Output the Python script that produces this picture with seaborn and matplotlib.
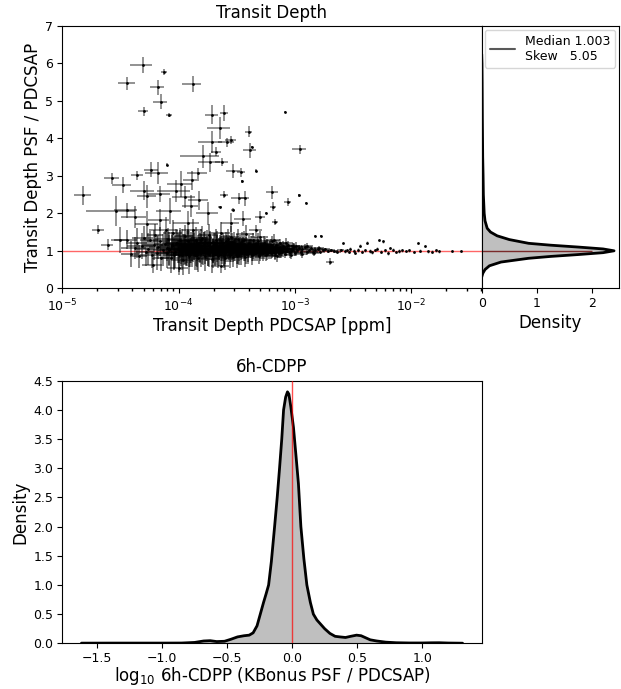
import numpy as np
import pandas as pd
import matplotlib
matplotlib.use("Agg")
import matplotlib.pyplot as plt
from matplotlib.lines import Line2D
import seaborn as sns

# ---------------- data ----------------
# Dense core (low depth)
A_depth = [3.6e-5, 3.9e-5, 4.2e-5, 4.4e-5, 4.6e-5, 4.8e-5, 5.0e-5, 5.2e-5, 5.5e-5, 5.7e-5,
           5.9e-5, 6.1e-5, 6.3e-5, 6.5e-5, 6.7e-5, 6.9e-5, 7.1e-5, 7.3e-5]
A_ratio = [1.30, 0.92, 1.08, 1.22, 0.85, 1.12, 1.35, 0.98, 1.05, 1.28,
           0.88, 1.15, 1.42, 0.95, 1.10, 1.25, 0.82, 1.02]
A_depth_err = [0.8e-5, 0.7e-5, 1.0e-5, 0.9e-5, 0.8e-5, 1.2e-5, 1.0e-5, 0.9e-5, 1.1e-5, 1.0e-5,
               1.2e-5, 1.3e-5, 1.0e-5, 1.4e-5, 1.1e-5, 1.5e-5, 1.2e-5, 1.3e-5]
A_ratio_err = [0.25, 0.35, 0.30, 0.40, 0.30, 0.35, 0.30, 0.38, 0.42, 0.30,
               0.35, 0.40, 0.30, 0.45, 0.32, 0.38, 0.36, 0.42]

B_depth = [7.6e-5, 7.9e-5, 8.1e-5, 8.3e-5, 8.6e-5, 8.8e-5, 9.0e-5, 9.3e-5, 9.5e-5, 9.8e-5,
           1.00e-4, 1.03e-4, 1.05e-4, 1.08e-4, 1.10e-4, 1.13e-4, 1.15e-4, 1.18e-4, 1.20e-4, 1.23e-4,
           1.25e-4, 1.28e-4, 1.30e-4, 1.33e-4, 1.36e-4, 1.39e-4, 1.42e-4, 1.45e-4, 1.48e-4, 1.51e-4,
           1.54e-4, 1.57e-4, 1.60e-4, 1.64e-4, 1.68e-4, 1.72e-4, 1.76e-4, 1.80e-4, 1.84e-4, 1.88e-4,
           1.92e-4, 1.96e-4,
           8.0e-5, 9.1e-5, 1.02e-4, 1.12e-4, 1.22e-4, 1.32e-4, 1.44e-4, 1.56e-4, 1.70e-4, 1.86e-4, 1.98e-4]
B_ratio = [1.18, 0.93, 1.32, 1.05, 0.80, 1.12, 1.48, 0.97, 1.22, 1.08,
           0.88, 1.30, 1.02, 1.15, 0.75, 1.40, 0.95, 1.10, 1.25, 0.85,
           1.05, 1.18, 0.98, 1.55, 1.12, 0.90, 1.28, 1.02, 0.82, 1.20,
           1.08, 0.94, 1.35, 1.15, 0.87, 1.05, 1.22, 0.97, 1.42, 1.10,
           0.78, 1.00,
           1.08, 0.90, 1.18, 1.02, 0.92, 1.12, 0.96, 1.28, 1.00, 1.20, 0.90]
B_depth_err = [1.5e-5, 1.6e-5, 1.8e-5, 1.4e-5, 1.7e-5, 2.0e-5, 1.6e-5, 1.9e-5, 2.1e-5, 1.8e-5,
               2.2e-5, 2.0e-5, 2.3e-5, 1.9e-5, 2.4e-5, 2.1e-5, 2.5e-5, 2.2e-5, 2.6e-5, 2.3e-5,
               2.7e-5, 2.4e-5, 2.8e-5, 2.5e-5, 2.9e-5, 2.6e-5, 3.0e-5, 2.7e-5, 3.1e-5, 2.8e-5,
               3.2e-5, 2.9e-5, 3.3e-5, 3.0e-5, 3.4e-5, 3.1e-5, 3.5e-5, 3.2e-5, 3.6e-5, 3.3e-5,
               3.7e-5, 3.4e-5,
               1.6e-5, 1.8e-5, 2.0e-5, 2.2e-5, 2.4e-5, 2.6e-5, 2.8e-5, 3.0e-5, 3.2e-5, 3.4e-5, 3.6e-5]
B_ratio_err = [0.35, 0.40, 0.30, 0.45, 0.38, 0.30, 0.33, 0.42, 0.36, 0.40,
               0.45, 0.32, 0.38, 0.44, 0.40, 0.30, 0.36, 0.42, 0.34, 0.46,
               0.38, 0.33, 0.40, 0.30, 0.36, 0.42, 0.35, 0.30, 0.38, 0.32,
               0.40, 0.36, 0.30, 0.34, 0.40, 0.28, 0.33, 0.38, 0.30, 0.35,
               0.36, 0.32,
               0.36, 0.42, 0.38, 0.40, 0.36, 0.42, 0.38, 0.30, 0.36, 0.32, 0.35]

C_depth = [2.00e-4, 2.05e-4, 2.10e-4, 2.15e-4, 2.20e-4, 2.25e-4, 2.30e-4, 2.35e-4, 2.40e-4, 2.46e-4,
           2.52e-4, 2.58e-4, 2.64e-4, 2.70e-4, 2.76e-4, 2.82e-4, 2.88e-4, 2.95e-4, 3.02e-4, 3.09e-4,
           3.16e-4, 3.23e-4, 3.30e-4, 3.38e-4, 3.46e-4, 3.54e-4, 3.62e-4, 3.70e-4, 3.79e-4, 3.88e-4,
           3.97e-4, 4.06e-4, 4.16e-4, 4.26e-4, 4.36e-4, 4.46e-4, 4.57e-4, 4.68e-4, 4.79e-4, 4.90e-4,
           5.02e-4, 5.14e-4, 5.26e-4, 5.38e-4, 5.51e-4, 5.64e-4, 5.77e-4, 5.91e-4,
           2.02e-4, 2.12e-4, 2.22e-4, 2.33e-4, 2.44e-4, 2.55e-4, 2.67e-4, 2.79e-4, 2.92e-4, 3.05e-4,
           3.19e-4, 3.34e-4, 3.50e-4, 3.66e-4, 3.83e-4, 4.01e-4, 4.20e-4, 4.40e-4, 4.61e-4, 4.83e-4,
           5.06e-4, 5.30e-4, 5.55e-4, 5.81e-4]
C_ratio = [1.18, 0.92, 1.30, 1.05, 0.85, 1.12, 1.48, 0.98, 1.20, 1.08,
           0.80, 1.25, 1.02, 1.15, 0.90, 1.38, 1.05, 0.96, 1.22, 1.10,
           0.86, 1.32, 1.00, 1.16, 0.93, 1.26, 1.06, 0.84, 1.44, 1.12,
           0.97, 1.20, 1.04, 0.88, 1.28, 1.09, 0.95, 1.18, 1.02, 0.86,
           1.36, 1.12, 0.96, 1.22, 1.05, 0.90, 1.15, 1.00,
           1.00, 1.22, 0.96, 1.10, 0.88, 1.02, 1.32, 1.10, 0.84, 1.04,
           1.18, 0.90, 1.08, 1.30, 0.92, 1.06, 1.16, 0.96, 1.08, 1.26,
           0.92, 1.06, 1.18, 0.94]
C_depth_err = [4.0e-5, 3.5e-5, 4.2e-5, 3.8e-5, 4.4e-5, 4.0e-5, 4.6e-5, 4.2e-5, 4.8e-5, 4.4e-5,
               5.0e-5, 4.6e-5, 5.2e-5, 4.8e-5, 5.4e-5, 5.0e-5, 5.6e-5, 5.2e-5, 5.8e-5, 5.4e-5,
               6.0e-5, 5.6e-5, 6.2e-5, 5.8e-5, 6.4e-5, 6.0e-5, 6.6e-5, 6.2e-5, 6.8e-5, 6.4e-5,
               7.0e-5, 6.6e-5, 7.2e-5, 6.8e-5, 7.4e-5, 7.0e-5, 7.6e-5, 7.2e-5, 7.8e-5, 7.4e-5,
               8.0e-5, 7.6e-5, 8.2e-5, 7.8e-5, 8.4e-5, 8.0e-5, 8.6e-5, 8.2e-5,
               3.6e-5, 4.0e-5, 4.2e-5, 4.4e-5, 4.6e-5, 4.8e-5, 5.0e-5, 5.2e-5, 5.4e-5, 5.6e-5,
               5.8e-5, 6.0e-5, 6.2e-5, 6.4e-5, 6.6e-5, 6.8e-5, 7.0e-5, 7.2e-5, 7.4e-5, 7.6e-5,
               7.8e-5, 8.0e-5, 8.2e-5, 8.4e-5]
C_ratio_err = [0.30, 0.33, 0.28, 0.35, 0.30, 0.26, 0.30, 0.32, 0.27, 0.34,
               0.30, 0.25, 0.31, 0.28, 0.35, 0.27, 0.30, 0.26, 0.29, 0.24,
               0.32, 0.25, 0.28, 0.22, 0.30, 0.24, 0.27, 0.26, 0.24, 0.22,
               0.26, 0.21, 0.24, 0.25, 0.20, 0.23, 0.22, 0.19, 0.21, 0.22,
               0.18, 0.20, 0.19, 0.17, 0.19, 0.18, 0.16, 0.17,
               0.26, 0.32, 0.36, 0.30, 0.28, 0.33, 0.26, 0.30, 0.28, 0.31,
               0.26, 0.28, 0.25, 0.23, 0.27, 0.22, 0.24, 0.23, 0.20, 0.21,
               0.20, 0.18, 0.17, 0.18]

D_depth = [6.05e-4, 6.2e-4, 6.35e-4, 6.5e-4, 6.7e-4, 6.9e-4, 7.1e-4, 7.3e-4, 7.5e-4, 7.75e-4,
           8.0e-4, 8.25e-4, 8.5e-4, 8.8e-4, 9.1e-4, 9.4e-4, 9.7e-4, 1.00e-3, 1.04e-3, 1.08e-3,
           1.12e-3, 1.16e-3, 1.21e-3, 1.26e-3, 1.31e-3, 1.37e-3, 1.43e-3, 1.50e-3, 1.57e-3, 1.65e-3,
           1.74e-3, 1.83e-3, 1.93e-3, 2.05e-3, 2.18e-3, 2.32e-3, 2.48e-3,
           6.6e-4, 7.0e-4, 7.6e-4, 8.4e-4, 9.2e-4, 1.02e-3, 1.14e-3, 1.28e-3, 1.45e-3, 1.62e-3]
D_ratio = [1.10, 0.95, 1.25, 1.02, 0.90, 1.15, 1.05, 0.94, 1.20, 1.00,
           1.10, 0.92, 1.04, 1.16, 0.97, 1.06, 1.12, 0.95, 1.02, 1.08,
           0.96, 1.04, 1.10, 0.98, 1.03, 1.07, 0.97, 1.02, 1.05, 0.98,
           1.01, 1.04, 0.99, 1.02, 1.00, 0.98, 1.01,
           1.30, 0.85, 1.08, 1.22, 0.90, 1.14, 0.92, 1.12, 0.94, 1.08]
D_depth_err = [9.0e-5, 8.5e-5, 9.5e-5, 9.0e-5, 1.0e-4, 9.5e-5, 1.05e-4, 1.0e-4, 1.1e-4, 1.05e-4,
               1.15e-4, 1.1e-4, 1.2e-4, 1.15e-4, 1.25e-4, 1.2e-4, 1.3e-4, 1.25e-4, 1.35e-4, 1.3e-4,
               1.4e-4, 1.35e-4, 1.45e-4, 1.4e-4, 1.5e-4, 1.45e-4, 1.55e-4, 1.5e-4, 1.6e-4, 1.55e-4,
               1.65e-4, 1.6e-4, 1.7e-4, 1.7e-4, 1.8e-4, 1.8e-4, 1.9e-4,
               9.0e-5, 1.0e-4, 1.1e-4, 1.15e-4, 1.2e-4, 1.3e-4, 1.4e-4, 1.45e-4, 1.55e-4, 1.6e-4]
D_ratio_err = [0.15, 0.16, 0.14, 0.15, 0.14, 0.13, 0.14, 0.13, 0.12, 0.13,
               0.11, 0.12, 0.11, 0.10, 0.11, 0.10, 0.09, 0.10, 0.09, 0.08,
               0.09, 0.08, 0.07, 0.08, 0.07, 0.06, 0.07, 0.06, 0.05, 0.05,
               0.05, 0.04, 0.04, 0.04, 0.03, 0.03, 0.03,
               0.15, 0.16, 0.13, 0.12, 0.12, 0.10, 0.10, 0.08, 0.07, 0.06]

# Extra core points filling the black blob
E_depth = [8.2e-5, 8.7e-5, 9.2e-5, 9.7e-5, 1.01e-4, 1.06e-4, 1.11e-4, 1.16e-4, 1.21e-4, 1.26e-4,
           1.31e-4, 1.37e-4, 1.43e-4, 1.49e-4, 1.55e-4, 1.62e-4, 1.69e-4, 1.76e-4, 1.83e-4, 1.91e-4,
           1.99e-4, 2.07e-4, 2.16e-4, 2.25e-4, 2.34e-4, 2.44e-4, 2.54e-4, 2.65e-4, 2.76e-4, 2.88e-4,
           3.00e-4, 3.12e-4, 3.25e-4, 3.39e-4, 3.53e-4, 3.68e-4, 3.83e-4, 3.99e-4, 4.16e-4, 4.33e-4,
           4.51e-4, 4.70e-4, 4.90e-4, 5.10e-4, 5.31e-4, 5.53e-4, 5.76e-4, 6.00e-4, 6.25e-4, 6.51e-4,
           6.78e-4, 7.06e-4, 7.36e-4, 7.66e-4, 7.98e-4, 8.31e-4, 8.66e-4, 9.02e-4, 9.40e-4, 9.79e-4]
E_ratio = [1.02, 1.15, 0.94, 1.22, 1.06, 0.90, 1.12, 1.00, 1.26, 0.96,
           1.08, 1.18, 0.88, 1.04, 1.14, 0.98, 1.24, 1.06, 0.92, 1.10,
           1.00, 1.20, 0.95, 1.12, 1.03, 0.89, 1.16, 1.07, 0.97, 1.23,
           1.01, 1.11, 0.93, 1.19, 1.05, 0.99, 1.14, 0.91, 1.08, 1.02,
           1.17, 0.96, 1.06, 1.12, 0.94, 1.03, 1.10, 0.98, 1.15, 1.01,
           0.95, 1.08, 1.04, 0.97, 1.12, 1.00, 1.06, 0.96, 1.03, 1.09]
E_depth_err = [1.6e-5, 1.7e-5, 1.8e-5, 1.9e-5, 2.0e-5, 2.1e-5, 2.2e-5, 2.3e-5, 2.4e-5, 2.5e-5,
               2.6e-5, 2.7e-5, 2.9e-5, 3.0e-5, 3.1e-5, 3.2e-5, 3.4e-5, 3.5e-5, 3.7e-5, 3.8e-5,
               4.0e-5, 4.1e-5, 4.3e-5, 4.5e-5, 4.7e-5, 4.9e-5, 5.1e-5, 5.3e-5, 5.5e-5, 5.8e-5,
               6.0e-5, 6.2e-5, 6.5e-5, 6.8e-5, 7.1e-5, 7.4e-5, 7.7e-5, 8.0e-5, 8.3e-5, 8.7e-5,
               9.0e-5, 9.4e-5, 9.8e-5, 1.02e-4, 1.06e-4, 1.10e-4, 1.15e-4, 1.20e-4, 1.25e-4, 1.30e-4,
               1.35e-4, 1.40e-4, 1.47e-4, 1.53e-4, 1.60e-4, 1.66e-4, 1.73e-4, 1.80e-4, 1.88e-4, 1.96e-4]
E_ratio_err = [0.40, 0.36, 0.42, 0.34, 0.38, 0.40, 0.33, 0.37, 0.30, 0.39,
               0.35, 0.31, 0.38, 0.34, 0.30, 0.36, 0.28, 0.33, 0.35, 0.30,
               0.32, 0.27, 0.33, 0.29, 0.31, 0.34, 0.26, 0.30, 0.28, 0.24,
               0.29, 0.25, 0.28, 0.23, 0.26, 0.27, 0.22, 0.25, 0.23, 0.24,
               0.20, 0.23, 0.21, 0.19, 0.22, 0.20, 0.18, 0.19, 0.16, 0.18,
               0.17, 0.15, 0.16, 0.15, 0.13, 0.14, 0.13, 0.14, 0.12, 0.11]

F_depth = [1.04e-4, 1.09e-4, 1.14e-4, 1.19e-4, 1.24e-4, 1.29e-4, 1.35e-4, 1.41e-4, 1.47e-4, 1.53e-4,
           1.59e-4, 1.66e-4, 1.73e-4, 1.80e-4, 1.88e-4, 1.96e-4, 2.04e-4, 2.13e-4, 2.22e-4, 2.31e-4,
           2.41e-4, 2.51e-4, 2.61e-4, 2.72e-4, 2.83e-4, 2.95e-4, 3.07e-4, 3.20e-4, 3.33e-4, 3.47e-4,
           3.61e-4, 3.76e-4, 3.92e-4, 4.08e-4, 4.25e-4, 4.43e-4, 4.61e-4, 4.80e-4, 5.00e-4, 5.21e-4,
           5.42e-4, 5.65e-4, 5.88e-4, 6.12e-4, 6.38e-4, 6.64e-4, 6.92e-4, 7.20e-4, 7.50e-4, 7.81e-4]
F_ratio = [0.97, 1.10, 1.04, 0.92, 1.16, 1.01, 1.07, 0.95, 1.13, 1.03,
           0.99, 1.20, 1.06, 0.93, 1.11, 1.02, 0.96, 1.14, 1.05, 1.00,
           1.09, 0.94, 1.17, 1.03, 0.98, 1.12, 1.06, 0.91, 1.08, 1.01,
           1.15, 0.97, 1.04, 1.10, 0.95, 1.07, 1.02, 1.13, 0.99, 1.05,
           0.96, 1.09, 1.03, 1.11, 0.98, 1.06, 1.01, 1.08, 0.97, 1.04]
F_depth_err = [2.5e-5, 2.6e-5, 2.8e-5, 2.9e-5, 3.0e-5, 3.2e-5, 3.3e-5, 3.5e-5, 3.6e-5, 3.8e-5,
               3.9e-5, 4.1e-5, 4.3e-5, 4.5e-5, 4.7e-5, 4.9e-5, 5.1e-5, 5.3e-5, 5.5e-5, 5.8e-5,
               6.0e-5, 6.3e-5, 6.5e-5, 6.8e-5, 7.1e-5, 7.4e-5, 7.7e-5, 8.0e-5, 8.3e-5, 8.7e-5,
               9.0e-5, 9.4e-5, 9.8e-5, 1.02e-4, 1.06e-4, 1.11e-4, 1.15e-4, 1.20e-4, 1.25e-4, 1.30e-4,
               1.35e-4, 1.41e-4, 1.47e-4, 1.53e-4, 1.59e-4, 1.66e-4, 1.73e-4, 1.80e-4, 1.87e-4, 1.95e-4]
F_ratio_err = [0.38, 0.35, 0.40, 0.33, 0.37, 0.34, 0.31, 0.36, 0.30, 0.33,
               0.35, 0.29, 0.32, 0.34, 0.28, 0.31, 0.33, 0.27, 0.30, 0.28,
               0.26, 0.29, 0.25, 0.27, 0.28, 0.24, 0.26, 0.27, 0.23, 0.25,
               0.22, 0.24, 0.23, 0.21, 0.22, 0.20, 0.21, 0.19, 0.20, 0.18,
               0.19, 0.17, 0.18, 0.16, 0.17, 0.15, 0.16, 0.14, 0.15, 0.13]

# Scattered outliers
out_depth = [4.9e-5, 7.5e-5, 3.6e-5, 6.6e-5, 1.32e-4, 7.0e-5, 5.0e-5, 8.3e-5, 1.94e-4, 2.45e-4,
             8.3e-4, 2.25e-4, 4.0e-4, 4.1e-4, 4.25e-4, 1.1e-3, 1.93e-4, 2.6e-4, 2.8e-4, 1.63e-4,
             1.86e-4, 2.34e-4, 2.1e-4, 2.95e-4, 3.45e-4, 4.6e-4, 3.5e-4, 6.4e-4, 8.7e-4, 1.08e-3,
             1.25e-3, 6.5e-4, 3.3e-4, 3.75e-4, 2.45e-4, 5.7e-4, 6.7e-4, 5.0e-4, 2.27e-4, 2.95e-4,
             1.5e-3, 1.67e-3, 2.0e-3, 1.52e-5, 2.7e-5, 3.3e-5, 4.4e-5, 5.8e-5, 6.6e-5, 7.9e-5,
             2.9e-5, 3.6e-5, 2.04e-5, 2.45e-5, 5.0e-5, 5.4e-5, 6.9e-5, 4.2e-5, 5.4e-5, 6.9e-5,
             8.4e-5, 1.13e-4, 1.3e-4, 9.5e-5, 1.05e-4, 1.47e-4, 1.27e-4, 1.5e-4, 3.13e-5, 1.8e-4,
             2.8e-4, 3.6e-4, 1.2e-4, 7.8e-5, 4.6e-4, 1.0e-4, 2.3e-4, 6.0e-5]
out_ratio = [5.96, 5.78, 5.47, 5.36, 5.45, 4.98, 4.73, 4.63, 4.63, 4.68,
             4.70, 4.28, 4.18, 3.68, 3.78, 3.71, 3.90, 3.90, 3.96, 3.52,
             3.36, 3.37, 3.64, 3.13, 3.10, 3.14, 2.85, 2.56, 2.30, 2.48,
             2.28, 2.18, 2.40, 2.40, 2.50, 2.00, 1.76, 1.90, 2.16, 2.10,
             1.40, 1.40, 0.71, 2.48, 2.93, 2.75, 3.02, 3.16, 3.08, 3.30,
             2.07, 2.08, 1.56, 1.16, 2.60, 2.45, 2.52, 1.90, 1.72, 1.82,
             2.07, 2.43, 2.88, 2.60, 2.78, 3.07, 2.20, 2.35, 1.28, 2.00,
             1.75, 1.85, 1.75, 1.55, 1.55, 0.55, 0.60, 0.62]
out_depth_err = [1.05e-5, 0.5e-5, 0.6e-5, 0.9e-5, 2.5e-5, 1.0e-5, 0.5e-5, 0.5e-5, 2.5e-5, 2.0e-5,
                 1.0e-5, 5.0e-5, 3.0e-5, 5.0e-5, 0.5e-5, 1.5e-4, 4.5e-5, 4.0e-5, 3.0e-5, 6.0e-5,
                 4.0e-5, 3.0e-5, 2.0e-5, 4.0e-5, 3.0e-5, 1.0e-5, 0.5e-5, 8.0e-5, 6.0e-5, 1.0e-5,
                 1.0e-5, 4.0e-5, 5.0e-5, 3.0e-5, 2.0e-5, 1.0e-5, 4.0e-5, 5.0e-5, 1.0e-5, 1.0e-5,
                 1.0e-5, 1.0e-5, 1.5e-4, 2.5e-6, 4.0e-6, 6.0e-6, 5.0e-6, 8.0e-6, 1.5e-5, 1.0e-6,
                 1.3e-5, 8.0e-6, 2.5e-6, 3.0e-6, 1.2e-5, 1.0e-5, 1.5e-5, 1.0e-5, 1.2e-5, 1.4e-5,
                 2.0e-5, 2.5e-5, 2.0e-5, 3.0e-5, 2.5e-5, 3.0e-5, 2.0e-5, 3.0e-5, 5.0e-6, 4.0e-5,
                 5.0e-5, 6.0e-5, 3.0e-5, 2.0e-5, 6.0e-5, 2.0e-5, 4.0e-5, 1.2e-5]
out_ratio_err = [0.21, 0.08, 0.18, 0.20, 0.22, 0.20, 0.12, 0.06, 0.25, 0.22,
                 0.02, 0.30, 0.15, 0.20, 0.03, 0.12, 0.30, 0.12, 0.10, 0.30,
                 0.25, 0.10, 0.12, 0.18, 0.12, 0.03, 0.03, 0.18, 0.10, 0.04,
                 0.03, 0.12, 0.15, 0.20, 0.10, 0.03, 0.08, 0.15, 0.03, 0.03,
                 0.02, 0.02, 0.10, 0.25, 0.15, 0.22, 0.12, 0.20, 0.30, 0.05,
                 0.40, 0.20, 0.12, 0.15, 0.25, 0.30, 0.22, 0.30, 0.35, 0.30,
                 0.35, 0.30, 0.25, 0.30, 0.35, 0.15, 0.30, 0.25, 0.35, 0.30,
                 0.25, 0.20, 0.30, 0.35, 0.15, 0.20, 0.18, 0.20]

# Deep transits along ratio ~ 1
tail_depth = [2.6e-3, 2.7e-3, 2.8e-3, 2.9e-3, 3.0e-3, 3.2e-3, 3.3e-3, 3.5e-3, 3.65e-3, 3.8e-3,
              4.0e-3, 4.2e-3, 4.4e-3, 4.6e-3, 4.9e-3, 5.1e-3, 5.3e-3, 5.5e-3, 5.7e-3, 6.0e-3,
              6.3e-3, 6.6e-3, 7.0e-3, 7.4e-3, 7.8e-3, 8.3e-3, 9.0e-3, 9.6e-3, 1.05e-2, 1.14e-2,
              1.2e-2, 1.32e-2, 1.4e-2, 1.5e-2, 1.62e-2, 1.75e-2, 2.26e-2, 2.7e-2]
tail_ratio = [1.21, 0.99, 1.02, 0.97, 1.04, 1.00, 0.95, 1.03, 1.13, 0.98,
              1.01, 1.22, 0.99, 0.96, 1.02, 1.06, 1.28, 0.98, 1.25, 1.01,
              0.94, 1.08, 1.03, 0.97, 1.00, 1.02, 0.99, 1.01, 0.97, 1.20,
              1.00, 1.12, 0.99, 0.98, 1.01, 0.99, 1.00, 1.00]
tail_ratio_err = [0.03, 0.05, 0.04, 0.03, 0.05, 0.04, 0.03, 0.05, 0.04, 0.03,
                  0.04, 0.03, 0.05, 0.04, 0.03, 0.04, 0.03, 0.05, 0.03, 0.04,
                  0.05, 0.03, 0.04, 0.03, 0.05, 0.04, 0.03, 0.04, 0.03, 0.03,
                  0.04, 0.03, 0.04, 0.05, 0.03, 0.04, 0.02, 0.02]

# Marginal density of the ratio
marg_ratio = [0.30, 0.40, 0.50, 0.60, 0.70, 0.80, 0.85, 0.90, 0.95, 1.00,
              1.05, 1.10, 1.15, 1.20, 1.30, 1.40, 1.50, 1.60, 1.80, 2.00,
              2.50, 3.00, 3.50, 4.00, 4.50, 5.00, 5.50, 6.00, 6.25]
marg_density = [0.0, 0.02, 0.06, 0.14, 0.35, 0.85, 1.25, 1.75, 2.20, 2.40,
                2.20, 1.75, 1.25, 0.85, 0.50, 0.28, 0.16, 0.10, 0.06, 0.045,
                0.03, 0.025, 0.018, 0.015, 0.012, 0.010, 0.008, 0.005, 0.0]
median_ratio = "1.003"
skew_ratio = "5.05"

# 6h-CDPP log-ratio density
cdpp_x = [-1.62, -1.40, -1.20, -1.00, -0.85, -0.75, -0.68, -0.63, -0.58, -0.52,
          -0.47, -0.42, -0.37, -0.33, -0.30, -0.27, -0.245, -0.22, -0.20, -0.181,
          -0.16, -0.135, -0.115, -0.097, -0.08, -0.066, -0.05, -0.036, -0.025, -0.01,
          0.01, 0.03, 0.048, 0.067, 0.09, 0.113, 0.14, 0.163, 0.19, 0.214,
          0.25, 0.29, 0.33, 0.367, 0.41, 0.45, 0.495, 0.53, 0.56, 0.60,
          0.65, 0.72, 0.80, 0.90, 1.00, 1.07, 1.13, 1.20, 1.31]
cdpp_density = [0.003, 0.004, 0.004, 0.004, 0.005, 0.015, 0.040, 0.045, 0.030, 0.035,
                0.07, 0.11, 0.13, 0.14, 0.18, 0.30, 0.50, 0.70, 0.85, 1.00,
                1.40, 2.00, 2.50, 3.00, 3.50, 4.00, 4.22, 4.31, 4.27, 4.05,
                3.70, 3.20, 2.74, 2.00, 1.45, 1.00, 0.70, 0.50, 0.40, 0.34,
                0.25, 0.17, 0.12, 0.11, 0.10, 0.12, 0.14, 0.13, 0.10, 0.06,
                0.04, 0.02, 0.01, 0.006, 0.006, 0.009, 0.010, 0.005, 0.002]

# ---------------- styling ----------------
sns.set_theme(style="ticks", rc={
    "axes.edgecolor": "black", "axes.labelcolor": "black", "text.color": "black",
    "xtick.color": "black", "ytick.color": "black",
    "xtick.labelsize": 9, "ytick.labelsize": 9,
    "axes.labelsize": 12, "axes.titlesize": 12, "legend.fontsize": 9,
    "xtick.major.size": 3.5, "ytick.major.size": 3.5,
    "xtick.minor.size": 2, "ytick.minor.size": 2,
    "xtick.major.width": 0.8, "ytick.major.width": 0.8,
    "xtick.major.pad": 3, "ytick.major.pad": 3,
    "axes.labelpad": 2.5,
    "axes.linewidth": 0.8,
})
plt.rcParams["font.family"] = ["DejaVu Sans"]

fig = plt.figure(figsize=(6.21, 6.89), dpi=100)
ax = fig.add_axes([0.1003, 0.5816, 0.6754, 0.3807])
axm = fig.add_axes([0.7757, 0.5816, 0.2211, 0.3807], sharey=ax)
axb = fig.add_axes([0.1003, 0.0663, 0.6754, 0.3811])

# ---------------- top: scatter with error bars ----------------
ax.axhline(1.0, color="red", alpha=0.6, lw=1, zorder=1)
core_groups = [
    (A_depth, A_ratio, A_depth_err, A_ratio_err),
    (B_depth, B_ratio, B_depth_err, B_ratio_err),
    (C_depth, C_ratio, C_depth_err, C_ratio_err),
    (D_depth, D_ratio, D_depth_err, D_ratio_err),
    (E_depth, E_ratio, E_depth_err, E_ratio_err),
    (F_depth, F_ratio, F_depth_err, F_ratio_err),
]
for d, r, de, re in core_groups:
    ax.errorbar(d, r, xerr=de, yerr=re, fmt="none", ecolor="black",
                elinewidth=1.2, alpha=0.55, zorder=2)
ax.errorbar(out_depth, out_ratio, xerr=out_depth_err, yerr=out_ratio_err, fmt="none",
            ecolor="black", elinewidth=1.2, alpha=0.5, zorder=2)
ax.errorbar(tail_depth, tail_ratio, yerr=tail_ratio_err, fmt="none", ecolor="black",
            elinewidth=1.0, alpha=0.45, zorder=2)

pts = pd.DataFrame({
    "depth": A_depth + B_depth + C_depth + D_depth + E_depth + F_depth + out_depth + tail_depth,
    "ratio": A_ratio + B_ratio + C_ratio + D_ratio + E_ratio + F_ratio + out_ratio + tail_ratio,
})
sns.scatterplot(data=pts, x="depth", y="ratio", ax=ax, color="black", s=4,
                linewidth=0, zorder=3)
ax.set_xscale("log")
ax.set_xlim(1e-5, 0.0404)
ax.set_ylim(0, 7)
ax.set_yticks(range(0, 8))
ax.set_title("Transit Depth")
ax.set_xlabel("Transit Depth PDCSAP [ppm]")
ax.set_ylabel("Transit Depth PSF / PDCSAP")

# ---------------- marginal density ----------------
axm.fill_betweenx(marg_ratio, 0, marg_density, color="gray", alpha=0.5, lw=0, zorder=1)
axm.hlines(1.0, 0, 2, color="#7a2a2a", lw=1, zorder=2)
sns.lineplot(x=marg_density, y=marg_ratio, sort=False, orient="y", ax=axm,
             color="black", lw=2, zorder=3)
axm.set_xlim(0, 2.49)
axm.set_xticks([0, 1, 2])
axm.set_xlabel("Density")
axm.set_ylabel("")
axm.tick_params(axis="y", left=False, labelleft=False)
handle = Line2D([], [], color="0.35", lw=1.5)
axm.legend([handle], [f"Median {median_ratio}\nSkew   {skew_ratio}"], loc="upper right",
           fontsize=9, borderaxespad=0.3)

# ---------------- bottom: 6h-CDPP ----------------
axb.fill_between(cdpp_x, 0, cdpp_density, color="gray", alpha=0.5, lw=0, zorder=1)
sns.lineplot(x=cdpp_x, y=cdpp_density, ax=axb, color="black", lw=2, zorder=3)
axb.axvline(0.0, color="red", alpha=0.7, lw=1, zorder=4)
axb.set_xlim(-1.767, 1.457)
axb.set_ylim(0, 4.5)
axb.set_yticks([0.0, 0.5, 1.0, 1.5, 2.0, 2.5, 3.0, 3.5, 4.0, 4.5])
axb.set_xticks([-1.5, -1.0, -0.5, 0.0, 0.5, 1.0])
axb.yaxis.set_major_formatter(matplotlib.ticker.FormatStrFormatter("%.1f"))
axb.set_title("6h-CDPP")
axb.set_xlabel("log$_{10}$ 6h-CDPP (KBonus PSF / PDCSAP)", labelpad=0)
axb.set_ylabel("Density")

fig.savefig("out.png", dpi=100)
